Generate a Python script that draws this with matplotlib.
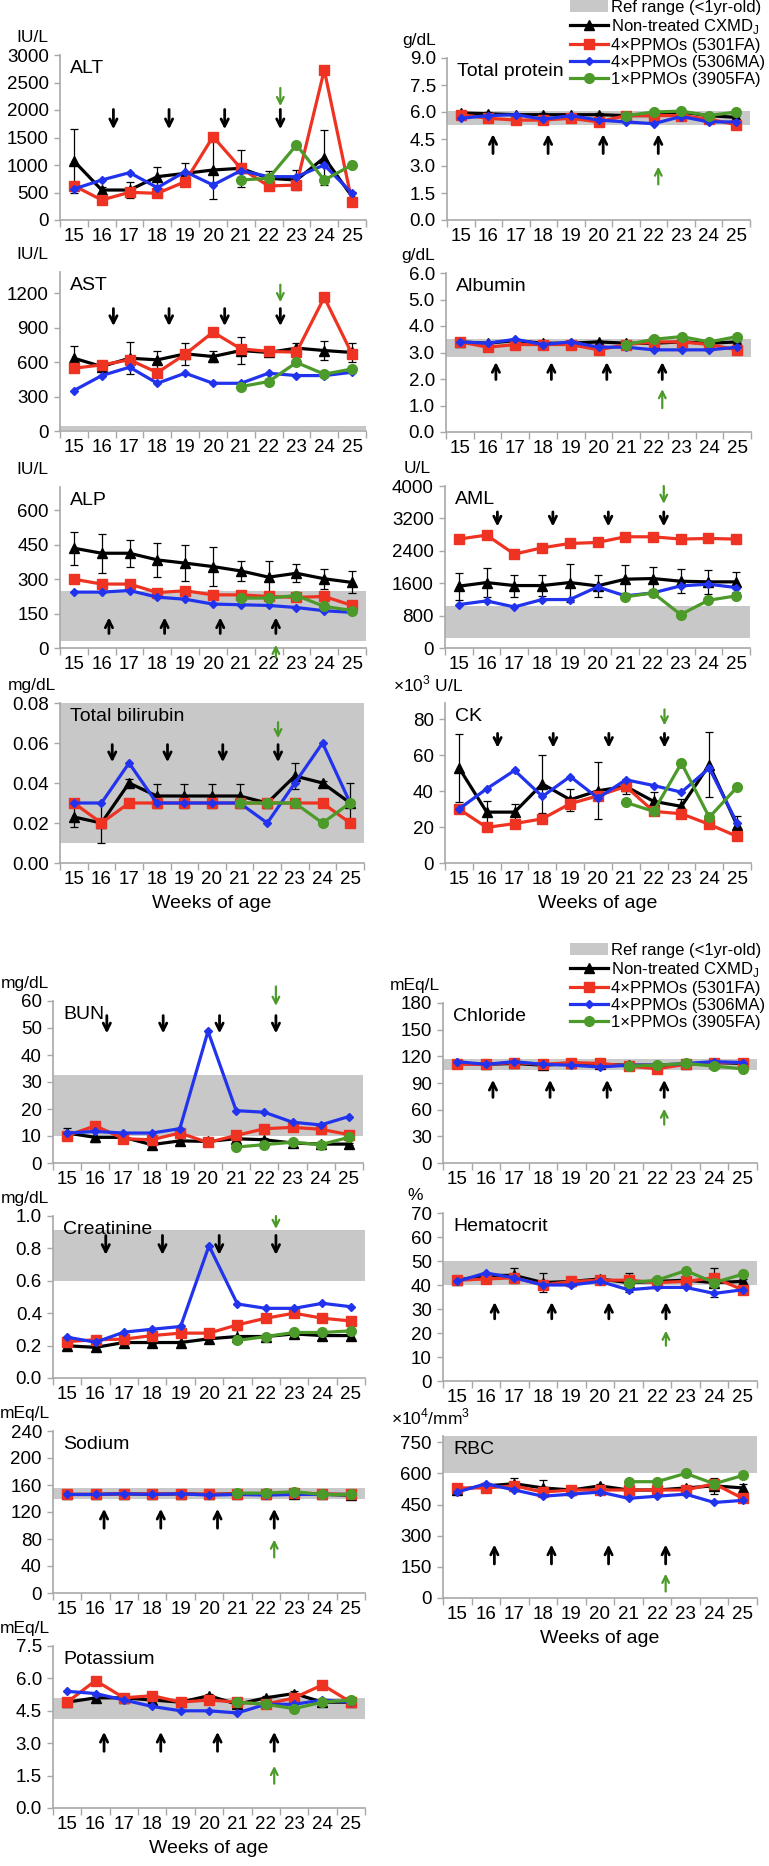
import numpy as np
import matplotlib.pyplot as plt
from matplotlib.lines import Line2D
from matplotlib.patches import Patch

plt.rcParams['font.family'] = ['Liberation Sans', 'DejaVu Sans']
plt.rcParams['mathtext.fontset'] = 'custom'
plt.rcParams['mathtext.rm'] = 'Liberation Sans'

weeks = [15, 16, 17, 18, 19, 20, 21, 22, 23, 24, 25]
dose_weeks = [16.5, 18.5, 20.5, 22.5]   # injections (between sampling weeks)
n = None

# ---- liver / muscle markers ----
alt_ctrl = [1073, 545, 545, 788, 848, 909, 940, 758, 727, 1133, 424]
alt_ctrl_sd = [575, 50, 150, 170, 180, 527, 333, 140, 190, 500, 80]
alt_5301 = [624, 364, 503, 485, 697, 1515, 940, 618, 636, 2727, 321]
alt_5306 = [564, 727, 861, 588, 879, 636, 897, 788, 788, 1000, 485]
alt_3905 = [n, n, n, n, n, n, 727, 758, 1364, 727, 1000]

ast_ctrl = [633, 561, 633, 619, 671, 648, 700, 683, 721, 700, 683]
ast_ctrl_sd = [110, 30, 140, 80, 93, 44, 116, 20, 43, 79, 81]
ast_5301 = [546, 575, 619, 508, 668, 860, 715, 692, 686, 1162, 668]
ast_5306 = [352, 482, 555, 415, 503, 415, 415, 503, 482, 482, 511]
ast_3905 = [n, n, n, n, n, n, 386, 430, 596, 494, 540]

alp_ctrl = [434, 412, 412, 383, 369, 354, 335, 308, 325, 301, 285]
alp_ctrl_sd = [72, 84, 58, 75, 79, 83, 44, 70, 39, 43, 48]
alp_5301 = [299, 278, 278, 241, 249, 231, 231, 224, 220, 224, 185]
alp_5306 = [243, 243, 250, 221, 212, 191, 188, 185, 176, 162, 155]
alp_3905 = [n, n, n, n, n, n, 217, 217, 228, 181, 163]

tbil_ctrl = [0.023, 0.020, 0.040, 0.0335, 0.0335, 0.0335, 0.0335, 0.030, 0.0435, 0.040, 0.030]
tbil_ctrl_sd = [0.005, 0.010, 0.002, 0.006, 0.006, 0.006, 0.006, 0.0, 0.0063, 0.001, 0.010]
tbil_5301 = [0.03, 0.02, 0.03, 0.03, 0.03, 0.03, 0.03, 0.03, 0.03, 0.03, 0.02]
tbil_5306 = [0.03, 0.03, 0.05, 0.03, 0.03, 0.03, 0.03, 0.02, 0.04, 0.06, 0.03]
tbil_3905 = [n, n, n, n, n, n, 0.03, 0.03, 0.03, 0.02, 0.03]

tp_ctrl = [5.95, 5.9, 5.85, 5.85, 5.85, 5.85, 5.8, 5.8, 6.0, 5.8, 5.7]
tp_ctrl_sd = [0.1, 0.1, 0.05, 0.1, 0.05, 0.1, 0.05, 0.05, 0.1, 0.05, 0.1]
tp_5301 = [5.85, 5.65, 5.55, 5.55, 5.65, 5.45, 5.8, 5.8, 5.8, 5.6, 5.3]
tp_5306 = [5.65, 5.8, 5.85, 5.6, 5.8, 5.55, 5.45, 5.35, 5.75, 5.45, 5.45]
tp_3905 = [n, n, n, n, n, n, 5.8, 6.0, 6.05, 5.8, 6.0]

alb_ctrl = [3.4, 3.35, 3.45, 3.35, 3.35, 3.4, 3.35, 3.35, 3.4, 3.35, 3.4]
alb_ctrl_sd = [0.05, 0.05, 0.05, 0.05, 0.05, 0.05, 0.05, 0.05, 0.05, 0.05, 0.05]
alb_5301 = [3.4, 3.2, 3.3, 3.3, 3.3, 3.1, 3.3, 3.4, 3.4, 3.3, 3.1]
alb_5306 = [3.4, 3.35, 3.5, 3.3, 3.4, 3.2, 3.2, 3.1, 3.1, 3.1, 3.2]
alb_3905 = [n, n, n, n, n, n, 3.3, 3.5, 3.6, 3.4, 3.6]

aml_ctrl = [1526, 1616, 1542, 1542, 1616, 1534, 1699, 1715, 1649, 1633, 1633]
aml_ctrl_sd = [330, 363, 272, 256, 470, 280, 346, 273, 297, 305, 247]
aml_5301 = [2689, 2788, 2318, 2474, 2581, 2606, 2746, 2746, 2689, 2705, 2689]
aml_5306 = [1072, 1163, 1014, 1196, 1196, 1509, 1287, 1361, 1534, 1575, 1493]
aml_3905 = [n, n, n, n, n, n, 1262, 1361, 825, 1179, 1287]

ck_ctrl = [53, 28.3, 28.3, 44, 35.2, 40.2, 42.6, 34.3, 31.5, 54.6, 20.9]
ck_ctrl_sd = [19, 6.3, 4.5, 16, 6, 16, 4, 5, 4, 18, 5.3]
ck_5301 = [30, 19.8, 21.9, 24.6, 33, 37.4, 42.6, 28.7, 27.4, 21.5, 14.8]
ck_5306 = [30, 41.3, 51.5, 37, 48.1, 36.1, 46.3, 43.1, 39.4, 52.8, 22.2]
ck_3905 = [n, n, n, n, n, n, 33.7, 28.7, 55.6, 25.4, 42.2]

# ---- kidney / electrolytes / blood ----
bun_ctrl = [11.1, 9.5, 9.5, 6.8, 8.2, 8.0, 9.0, 8.6, 7.4, 7.0, 7.0]
bun_ctrl_sd = [2.0, 1.8, 0.4, 0.5, 0.5, 0.8, 0.5, 0.5, 0.5, 0.4, 0.4]
bun_5301 = [10.1, 13.8, 9.0, 8.6, 11.1, 7.6, 10.2, 12.7, 13.2, 12.5, 10.5]
bun_5306 = [11.1, 11.7, 11.1, 11.1, 12.7, 48.8, 19.4, 18.8, 15.1, 14.1, 17.2]
bun_3905 = [n, n, n, n, n, n, 5.9, 6.8, 7.7, 6.8, 9.5]

cl_ctrl = [112, 111, 112, 110, 112, 111, 110, 110, 111, 113, 112]
cl_ctrl_sd = [1, 1, 1, 1, 1, 1, 1, 1, 1, 1, 1]
cl_5301 = [111, 111, 113, 111, 113, 112, 109, 106, 111, 113, 113]
cl_5306 = [114, 111, 114, 111, 110, 108, 110, 110, 112, 114, 113]
cl_3905 = [n, n, n, n, n, n, 109, 110, 112, 109, 106]

cre_ctrl = [0.199, 0.189, 0.219, 0.219, 0.219, 0.242, 0.256, 0.256, 0.272, 0.262, 0.262]
cre_ctrl_sd = [0.01, 0.01, 0.01, 0.01, 0.01, 0.02, 0.04, 0.01, 0.01, 0.03, 0.02]
cre_5301 = [0.225, 0.236, 0.24, 0.262, 0.277, 0.277, 0.328, 0.369, 0.40, 0.369, 0.352]
cre_5306 = [0.252, 0.221, 0.283, 0.301, 0.318, 0.816, 0.457, 0.43, 0.43, 0.461, 0.44]
cre_3905 = [n, n, n, n, n, n, 0.232, 0.256, 0.281, 0.281, 0.291]

hct_ctrl = [42, 44, 44, 41, 41.5, 42.5, 41, 41.5, 42, 41, 41.5]
hct_ctrl_sd = [1, 1, 3, 4, 1, 1, 4, 1, 1, 6, 1]
hct_5301 = [42, 42.5, 43, 40, 41.5, 42, 42, 41, 41.5, 43, 38]
hct_5306 = [41.5, 45, 43, 40, 40, 41.5, 38, 39, 39, 36.5, 38]
hct_3905 = [n, n, n, n, n, n, 41, 42, 46, 41, 44.5]

na_ctrl = [146, 146, 147, 146, 147, 146, 147, 146, 147, 146, 145]
na_ctrl_sd = [1, 1, 1, 1, 1, 1, 1, 1, 1, 1, 1]
na_5301 = [146, 146, 147, 147, 147, 146, 147, 147, 148, 147, 146]
na_5306 = [146, 146, 147, 146, 147, 145, 146, 145, 146, 146, 146]
na_3905 = [n, n, n, n, n, n, 148, 148, 150, 146, 146]

k_ctrl = [4.9, 5.1, 5.1, 5.0, 4.9, 5.2, 4.8, 5.1, 5.3, 4.9, 4.9]
k_ctrl_sd = [0.1, 0.15, 0.1, 0.1, 0.1, 0.1, 0.1, 0.1, 0.1, 0.1, 0.1]
k_5301 = [4.9, 5.9, 5.1, 5.2, 4.9, 5.0, 4.9, 4.8, 5.1, 5.7, 4.9]
k_5306 = [5.4, 5.3, 5.0, 4.7, 4.5, 4.5, 4.4, 4.8, 4.8, 5.0, 4.9]
k_3905 = [n, n, n, n, n, n, 4.9, 4.8, 4.6, 4.9, 5.0]

rbc_ctrl = [520, 540, 550, 530, 520, 540, 520, 520, 530, 540, 530]
rbc_ctrl_sd = [10, 15, 30, 40, 10, 10, 20, 10, 10, 40, 20]
rbc_5301 = [530, 530, 540, 510, 520, 520, 520, 520, 520, 550, 480]
rbc_5306 = [510, 550, 520, 490, 500, 510, 480, 490, 500, 460, 470]
rbc_3905 = [n, n, n, n, n, n, 560, 560, 600, 550, 590]

W, H = 769, 1866
GRAY = '#c8c8c8'
AXC = '#a8a8a8'
TICK_FS = 13.5
series_style = [
    dict(color='#000000', marker='^', ms=6.5),
    dict(color='#ee3322', marker='s', ms=7),
    dict(color='#2233ee', marker='D', ms=4.5),
    dict(color='#4c9a2a', marker='o', ms=7),
]

# rect = (left, top, right, bottom) in pixels
panels = [
    dict(title='ALT', unit='IU/L', data=(alt_ctrl, alt_ctrl_sd, alt_5301, alt_5306, alt_3905),
         ylim=3000, yticks=np.arange(0, 3001, 500), fmt='{:.0f}', ref=None,
         rect=(60, 55, 366, 220), arrow='down', blk=(0.67, 0.55), grn=(0.80, 0.69), dx=-0.08),
    dict(title='AST', unit='IU/L', data=(ast_ctrl, ast_ctrl_sd, ast_5301, ast_5306, ast_3905),
         ylim=1383, yticks=np.arange(0, 1201, 300), fmt='{:.0f}', ref=(5, 45),
         rect=(60, 272, 366, 431), arrow='down', blk=(0.77, 0.66), grn=(0.92, 0.81), dx=-0.08),
    dict(title='ALP', unit='IU/L', data=(alp_ctrl, alp_ctrl_sd, alp_5301, alp_5306, alp_3905),
         ylim=700, yticks=np.arange(0, 601, 150), fmt='{:.0f}', ref=(30, 248),
         rect=(60, 487, 366, 648), arrow='up', blk=(0.19, 0.09), grn=(0.02, -0.06), dx=-0.24),
    dict(title='Total bilirubin', unit='mg/dL', data=(tbil_ctrl, tbil_ctrl_sd, tbil_5301, tbil_5306, tbil_3905),
         ylim=0.08, yticks=np.arange(0, 0.081, 0.02), fmt='{:.2f}', ref=(0.01, 0.08),
         rect=(60, 703, 364, 863), arrow='down', blk=(0.74, 0.63), grn=(0.88, 0.78), dx=-0.11,
         xlabel=True),
    dict(title='Total protein', unit='g/dL', data=(tp_ctrl, tp_ctrl_sd, tp_5301, tp_5306, tp_3905),
         ylim=9, yticks=np.arange(0, 9.01, 1.5), fmt='{:.1f}', ref=(5.3, 6.05),
         rect=(447, 58, 750, 220), arrow='up', blk=(0.53, 0.41), grn=(0.33, 0.22), dx=-0.33),
    dict(title='Albumin', unit='g/dL', data=(alb_ctrl, alb_ctrl_sd, alb_5301, alb_5306, alb_3905),
         ylim=6, yticks=np.arange(0, 6.01, 1), fmt='{:.1f}', ref=(2.83, 3.52),
         rect=(446, 273, 751, 432), arrow='up', blk=(0.44, 0.33), grn=(0.27, 0.15), dx=-0.2),
    dict(title='AML', unit='U/L', data=(aml_ctrl, aml_ctrl_sd, aml_5301, aml_5306, aml_3905),
         ylim=4000, yticks=np.arange(0, 4001, 800), fmt='{:.0f}', ref=(250, 1040),
         rect=(445, 486, 750, 648), arrow='down', blk=(0.84, 0.75), grn=(1.0, 0.89), dx=-0.11),
    dict(title='CK', unit='×10$^\\mathregular{3}$ U/L', data=(ck_ctrl, ck_ctrl_sd, ck_5301, ck_5306, ck_3905),
         ylim=89, yticks=np.arange(0, 81, 20), fmt='{:.0f}', ref=None,
         rect=(445, 703, 751, 863), arrow='down', blk=(0.81, 0.72), grn=(0.96, 0.86), dx=-0.11,
         xlabel=True, unit_left=True),
    dict(title='BUN', unit='mg/dL', data=(bun_ctrl, bun_ctrl_sd, bun_5301, bun_5306, bun_3905),
         ylim=60, yticks=np.arange(0, 61, 10), fmt='{:.0f}', ref=(10, 32.7),
         rect=(53, 1001, 363, 1163), arrow='down', blk=(0.91, 0.80), grn=(1.09, 0.97), dx=-0.09),
    dict(title='Creatinine', unit='mg/dL', data=(cre_ctrl, cre_ctrl_sd, cre_5301, cre_5306, cre_3905),
         ylim=1.0, yticks=np.arange(0, 1.01, 0.2), fmt='{:.1f}', ref=(0.6, 0.915),
         rect=(53, 1216, 365, 1378), arrow='down', blk=(0.88, 0.76), grn=(1.0, 0.92), dx=-0.14),
    dict(title='Sodium', unit='mEq/L', data=(na_ctrl, na_ctrl_sd, na_5301, na_5306, na_3905),
         ylim=240, yticks=np.arange(0, 241, 40), fmt='{:.0f}', ref=(140, 155),
         rect=(53, 1431, 365, 1593), arrow='up', blk=(0.52, 0.40), grn=(0.33, 0.22), dx=-0.2),
    dict(title='Potassium', unit='mEq/L', data=(k_ctrl, k_ctrl_sd, k_5301, k_5306, k_3905),
         ylim=7.5, yticks=np.arange(0, 7.51, 1.5), fmt='{:.1f}', ref=(4.1, 5.1),
         rect=(53, 1646, 365, 1808), arrow='up', blk=(0.47, 0.35), grn=(0.26, 0.15), dx=-0.2,
         xlabel=True),
    dict(title='Chloride', unit='mEq/L', data=(cl_ctrl, cl_ctrl_sd, cl_5301, cl_5306, cl_3905),
         ylim=180, yticks=np.arange(0, 181, 30), fmt='{:.0f}', ref=(105, 117),
         rect=(443, 1003, 757, 1163), arrow='up', blk=(0.52, 0.41), grn=(0.34, 0.24), dx=-0.25),
    dict(title='Hematocrit', unit='%', data=(hct_ctrl, hct_ctrl_sd, hct_5301, hct_5306, hct_3905),
         ylim=70, yticks=np.arange(0, 71, 10), fmt='{:.0f}', ref=(40, 50),
         rect=(443, 1213, 757, 1381), arrow='up', blk=(0.47, 0.37), grn=(0.30, 0.21), dx=-0.19),
    dict(title='RBC', unit='×10$^\\mathregular{4}$/mm$^\\mathregular{3}$', data=(rbc_ctrl, rbc_ctrl_sd, rbc_5301, rbc_5306, rbc_3905),
         ylim=780, yticks=np.arange(0, 751, 150), fmt='{:.0f}', ref=(600, 780),
         rect=(443, 1436, 757, 1598), arrow='up', blk=(0.33, 0.21), grn=(0.15, 0.04), dx=-0.2,
         xlabel=True, unit_left=True),
]

fig = plt.figure(figsize=(W / 100, H / 100), dpi=100)
x = np.arange(len(weeks))

for p in panels:
    l, t, r, b = p['rect']
    ax = fig.add_axes([l / W, 1 - b / H, (r - l) / W, (b - t) / H])
    ctrl, sd, s1, s2, s3 = p['data']
    if p['ref']:
        ax.axhspan(*p['ref'], color=GRAY, lw=0, zorder=0)
    ax.errorbar(x, ctrl, yerr=sd, lw=2.3, capsize=3, elinewidth=0.9, capthick=0.9,
                ecolor='k', zorder=3, **series_style[0])
    for vals, st, z in zip((s1, s2, s3), series_style[1:], (4, 5, 6)):
        ax.plot(x, np.array(vals, dtype=float), lw=2.3, zorder=z, **st)

    ax.set_xlim(-0.5, len(weeks) - 0.5)
    ax.set_ylim(0, p['ylim'])
    ax.set_xticks(np.arange(-0.5, len(weeks), 1))
    ax.set_xticklabels([])
    ax.set_xticks(x, minor=True)
    ax.set_xticklabels(weeks, minor=True)
    ax.tick_params(axis='x', which='major', length=5, width=1, color=AXC)
    ax.tick_params(axis='x', which='minor', length=0, pad=6, labelsize=TICK_FS)
    ax.set_yticks(p['yticks'])
    ax.set_yticklabels([p['fmt'].format(v) for v in p['yticks']])
    ax.tick_params(axis='y', length=4, width=1, color=AXC, pad=4, labelsize=TICK_FS)
    for s in ('top', 'right'):
        ax.spines[s].set_visible(False)
    for s in ('left', 'bottom'):
        ax.spines[s].set_color(AXC)
        ax.spines[s].set_linewidth(1.2)
    ax.patch.set_alpha(0)

    ax.annotate(p['title'], xy=(0, 1), xycoords='axes fraction', xytext=(10, -5),
                textcoords='offset pixels', ha='left', va='top', fontsize=14)
    if p.get('unit_left'):
        ax.annotate(p['unit'], xy=(0, 1), xycoords='axes fraction', xytext=(-52, 9),
                    textcoords='offset pixels', ha='left', va='bottom', fontsize=12.5)
    else:
        ax.annotate(p['unit'], xy=(0, 1), xycoords='axes fraction', xytext=(-28, 10),
                    textcoords='offset pixels', ha='center', va='bottom', fontsize=12.5)
    if p.get('xlabel'):
        ax.set_xlabel('Weeks of age', fontsize=14, labelpad=5)

    # dosing arrows
    for wk in dose_weeks:
        xa = wk - weeks[0] + p['dx']
        y0, y1 = p['blk']
        tail, head = (y0, y1) if p['arrow'] == 'down' else (y1, y0)
        ax.annotate('', xy=(xa, head), xycoords=('data', 'axes fraction'),
                    xytext=(xa, tail), textcoords=('data', 'axes fraction'),
                    arrowprops=dict(arrowstyle='->', lw=2, color='k', mutation_scale=13,
                                    shrinkA=0, shrinkB=0))
    g0, g1 = p['grn']
    xa = dose_weeks[-1] - weeks[0] + p['dx']
    tail, head = (g0, g1) if p['arrow'] == 'down' else (g1, g0)
    ax.annotate('', xy=(xa, head), xycoords=('data', 'axes fraction'),
                xytext=(xa, tail), textcoords=('data', 'axes fraction'),
                arrowprops=dict(arrowstyle='->', lw=1.6, color='#4c9a2a', mutation_scale=12,
                                shrinkA=0, shrinkB=0))

# legends (top and bottom blocks)
handles = [
    Patch(facecolor=GRAY, edgecolor='none'),
    Line2D([], [], lw=2.3, **series_style[0]),
    Line2D([], [], lw=2.3, **series_style[1]),
    Line2D([], [], lw=2.3, **series_style[2]),
    Line2D([], [], lw=2.3, **series_style[3]),
]
labels = ['Ref range (<1yr-old)', 'Non-treated CXMD$_\\mathregular{J}$',
          '4×PPMOs (5301FA)', '4×PPMOs (5306MA)', '1×PPMOs (3905FA)']
for top_px in (0, 943):
    fig.legend(handles, labels, loc='upper right',
               bbox_to_anchor=(765 / W, 1 - top_px / H), bbox_transform=fig.transFigure,
               frameon=False, fontsize=12, handlelength=2.3, handletextpad=0.15,
               labelspacing=0.12, borderpad=0, borderaxespad=0)

fig.savefig('out.png', dpi=100)
